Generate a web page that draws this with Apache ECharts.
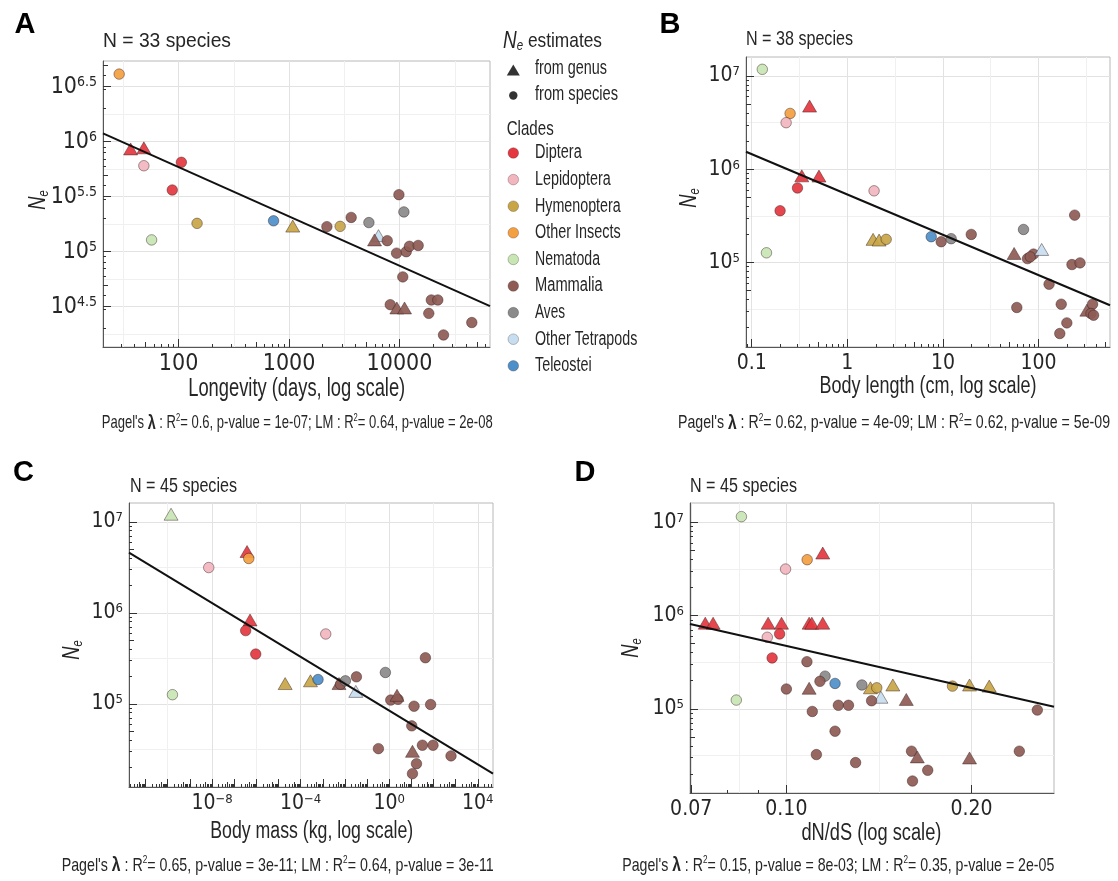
<!DOCTYPE html>
<html><head><meta charset="utf-8">
<script src="https://cdn.jsdelivr.net/npm/echarts@6/dist/echarts.min.js"></script>
<style>html,body{margin:0;padding:0;background:#fff}#c{width:1118px;height:881px}</style>
</head><body><div id="c"></div>
<script>
// ---------------- DATA ----------------
const clades = ['Diptera','Lepidoptera','Hymenoptera','Other Insects','Nematoda','Mammalia','Aves','Other Tetrapods','Teleostei'];
const cladeColors = ['#E4373F','#F2B6BF','#C8A646','#F4A040','#C8E6B4','#8E5B55','#8A8A8A','#C7DDF0','#4D8FC9'];
const estimateSources = ['from genus','from species']; // 'g' / 's'

// Panel A: [longevity (days), Ne, clade, source]
const longevityPoints = [
 [29,4.12e6,'Other Insects','s'],[36.8,8.6e5,'Diptera','g'],[48.5,8.8e5,'Diptera','g'],
 [48.5,6.05e5,'Lepidoptera','s'],[106,6.5e5,'Diptera','s'],[87.7,3.64e5,'Diptera','s'],
 [147,1.81e5,'Hymenoptera','s'],[57,1.28e5,'Nematoda','s'],[724,1.91e5,'Teleostei','s'],
 [1080,1.71e5,'Hymenoptera','g'],[2200,1.69e5,'Mammalia','s'],[2900,1.70e5,'Hymenoptera','s'],
 [3650,2.05e5,'Mammalia','s'],[5280,1.84e5,'Aves','s'],[6450,1.40e5,'Other Tetrapods','g'],
 [5940,1.28e5,'Mammalia','g'],[7740,1.26e5,'Mammalia','s'],[9870,3.3e5,'Mammalia','s'],
 [10950,2.3e5,'Aves','s'],[9400,9.7e4,'Mammalia','s'],[11500,1.0e5,'Mammalia','s'],
 [12300,1.12e5,'Mammalia','s'],[14750,1.14e5,'Mammalia','s'],[10700,5.9e4,'Mammalia','s'],
 [8240,3.3e4,'Mammalia','s'],[9460,3.08e4,'Mammalia','g'],[11100,3.08e4,'Mammalia','g'],
 [19400,3.64e4,'Mammalia','s'],[22200,3.64e4,'Mammalia','s'],[18400,2.75e4,'Mammalia','s'],
 [25000,1.75e4,'Mammalia','s'],[45100,2.27e4,'Mammalia','s']
];
const longevityFit = [[20.7,1.19e6],[65900,3.2e4]];

// Panel B: [body length (cm), Ne, clade, source]
const lengthPoints = [
 [0.129,1.18e7,'Nematoda','s'],[0.252,3.97e6,'Other Insects','s'],[0.229,3.16e6,'Lepidoptera','s'],
 [0.403,4.76e6,'Diptera','g'],[0.334,8.5e5,'Diptera','g'],[0.505,8.45e5,'Diptera','g'],
 [0.301,6.3e5,'Diptera','s'],[0.198,3.59e5,'Diptera','s'],[0.1426,1.27e5,'Nematoda','s'],
 [1.905,5.87e5,'Lepidoptera','s'],[1.86,1.77e5,'Hymenoptera','g'],[2.15,1.74e5,'Hymenoptera','g'],
 [2.55,1.77e5,'Hymenoptera','s'],[7.55,1.89e5,'Teleostei','s'],[9.6,1.67e5,'Mammalia','s'],
 [12.2,1.80e5,'Aves','s'],[19.8,2.0e5,'Mammalia','s'],[69.7,2.26e5,'Aves','s'],
 [55.6,1.25e5,'Mammalia','g'],[76.7,1.10e5,'Mammalia','s'],[88.7,1.23e5,'Mammalia','s'],
 [82,1.15e5,'Mammalia','s'],[108,1.38e5,'Other Tetrapods','g'],[239,3.22e5,'Mammalia','s'],
 [224,9.5e4,'Mammalia','s'],[272,9.9e4,'Mammalia','s'],[129,5.85e4,'Mammalia','s'],
 [59.3,3.29e4,'Mammalia','s'],[173,3.57e4,'Mammalia','s'],[198,2.25e4,'Mammalia','s'],
 [167,1.73e4,'Mammalia','s'],[321,3.08e4,'Mammalia','g'],[368,3.57e4,'Mammalia','s'],
 [354,2.84e4,'Mammalia','s'],[377,2.72e4,'Mammalia','s']
];
const lengthFit = [[0.0871,1.54e6],[560,3.48e4]];

// Panel C: [body mass (kg), Ne, clade, source]
const massPoints = [
 [1.41e-10,1.21e7,'Nematoda','g'],[1.63e-10,1.26e5,'Nematoda','s'],[7.1e-9,3.14e6,'Lepidoptera','s'],
 [3.8e-7,4.71e6,'Diptera','g'],[4.55e-7,3.95e6,'Other Insects','s'],[5.2e-7,8.34e5,'Diptera','g'],
 [3.3e-7,6.37e5,'Diptera','s'],[9.4e-7,3.52e5,'Diptera','s'],[1.36e-3,5.85e5,'Lepidoptera','s'],
 [2.0e-5,1.67e5,'Hymenoptera','g'],[2.78e-4,1.79e5,'Hymenoptera','g'],[6.1e-4,1.85e5,'Teleostei','s'],
 [5.4e-3,1.67e5,'Mammalia','g'],[6.3e-3,1.64e5,'Mammalia','s'],[0.0105,1.79e5,'Aves','s'],
 [0.033,1.98e5,'Mammalia','s'],[0.031,1.37e5,'Other Tetrapods','g'],[0.67,2.21e5,'Aves','s'],
 [0.325,3.22e4,'Mammalia','s'],[1.17,1.10e5,'Mammalia','s'],[2.5,1.12e5,'Mammalia','s'],
 [2.25,1.24e5,'Mammalia','g'],[13.2,9.42e4,'Mammalia','s'],[43,3.21e5,'Mammalia','s'],
 [74,9.83e4,'Mammalia','s'],[10.4,5.73e4,'Mammalia','s'],[31.5,3.51e4,'Mammalia','s'],
 [95,3.51e4,'Mammalia','s'],[11.2,3.01e4,'Mammalia','g'],[17,2.2e4,'Mammalia','s'],
 [11.2,1.71e4,'Mammalia','s'],[617,2.68e4,'Mammalia','s']
];
const massFit = [[1.78e-12,4.59e6],[48500,1.71e4]];

// Panel D: [dN/dS, Ne, clade, source]
const dndsPoints = [
 [0.0845,1.15e7,'Nematoda','s'],[0.0829,1.24e5,'Nematoda','s'],[0.0997,3.15e6,'Lepidoptera','s'],
 [0.1081,3.97e6,'Other Insects','s'],[0.1146,4.68e6,'Diptera','g'],[0.0738,8.28e5,'Diptera','g'],
 [0.0760,8.28e5,'Diptera','g'],[0.0934,8.28e5,'Diptera','g'],[0.0982,8.28e5,'Diptera','g'],
 [0.1089,8.28e5,'Diptera','g'],[0.110,8.28e5,'Diptera','g'],[0.1146,8.28e5,'Diptera','g'],
 [0.0931,5.85e5,'Lepidoptera','s'],[0.0975,6.35e5,'Diptera','s'],[0.0948,3.51e5,'Diptera','s'],
 [0.108,3.2e5,'Mammalia','s'],[0.1156,2.24e5,'Aves','s'],[0.1134,1.97e5,'Mammalia','s'],
 [0.12,1.87e5,'Teleostei','s'],[0.1,1.63e5,'Mammalia','s'],[0.1089,1.66e5,'Mammalia','g'],
 [0.1327,1.80e5,'Aves','s'],[0.137,1.68e5,'Hymenoptera','g'],[0.1403,1.68e5,'Hymenoptera','s'],
 [0.149,1.80e5,'Hymenoptera','g'],[0.1425,1.33e5,'Other Tetrapods','g'],[0.1376,1.22e5,'Mammalia','s'],
 [0.1567,1.26e5,'Mammalia','g'],[0.1863,1.75e5,'Hymenoptera','s'],[0.1986,1.80e5,'Hymenoptera','g'],
 [0.2138,1.75e5,'Hymenoptera','g'],[0.256,9.69e4,'Mammalia','s'],[0.1102,9.36e4,'Mammalia','s'],
 [0.1215,1.09e5,'Mammalia','s'],[0.1262,1.09e5,'Mammalia','s'],[0.12,5.75e4,'Mammalia','s'],
 [0.1119,3.23e4,'Mammalia','s'],[0.1296,2.65e4,'Mammalia','s'],[0.1598,3.51e4,'Mammalia','s'],
 [0.1633,3.05e4,'Mammalia','g'],[0.1698,2.19e4,'Mammalia','s'],[0.1604,1.68e4,'Mammalia','s'],
 [0.1986,2.97e4,'Mammalia','g'],[0.2393,3.51e4,'Mammalia','s']
];
const dndsFit = [[0.0697,8.13e5],[0.2725,1.05e5]];

// tick labels
const longevityTicks = [100, 1000, 10000];
const neExpA = [4.5, 5, 5.5, 6, 6.5];
const lengthTicks = [0.1, 1, 10, 100];
const neExp = [5, 6, 7];
const massExp = [-8, -4, 0, 4];
const dndsTicks = [0.07, 0.10, 0.20];

// texts
const panelLetters = ['A','B','C','D'];
const speciesCounts = [33, 38, 45, 45];
const xTitles = ['Longevity (days, log scale)','Body length (cm, log scale)','Body mass (kg, log scale)','dN/dS (log scale)'];
const pagelR2 = ['0.6','0.62','0.65','0.15'];
const pagelP = ['1e-07','4e-09','3e-11','8e-03'];
const lmR2 = ['0.64','0.62','0.64','0.35'];
const lmP = ['2e-08','5e-09','3e-11','2e-05'];

// ---------------- LAYOUT / STYLE ----------------
const FT = "'Liberation Sans', Arial, sans-serif";
const FN = "'Liberation Sans Narrow', 'DejaVu Sans Condensed', 'Liberation Sans', sans-serif";
const INK = '#262626';
const colorOf = {}; clades.forEach((c,i)=>colorOf[c]=cladeColors[i]);

const fmtPlain = v => String(Math.round(v));
const fmtLen = v => v < 1 ? v.toFixed(1) : String(Math.round(v));
const fmtDnds = v => v.toFixed(2);
const fmtPow = v => { const e = Math.round(Math.log10(v)*10)/10; const s = (Math.abs(e - Math.round(e)) < 1e-9 ? String(Math.round(e)) : e.toFixed(1)).replace('-', '\u2212'); return '{b|10}{s|' + s + '}'; };

const panels = [
 {grid:{left:103, top:61, width:387, height:286}, xr:[20.7,65900], yr:[1.36e4,5.42e6], xt:longevityTicks, yt:neExpA.map(e=>Math.pow(10,e)), xf:fmtPlain, yf:fmtPow, ls:23, pts:longevityPoints, fit:longevityFit,
  letter:[25,25], title:{x:103,y:41,w:128,s:21}, xname:{x:296.7,y:389,w:217,s:25}, foot:{x:101.7,y:423,w:391}, yname:[39,200]},
 {grid:{left:746, top:57, width:364, height:290}, xr:[0.0871,560], yr:[1.24e4,1.60e7], xt:lengthTicks, yt:neExp.map(e=>Math.pow(10,e)), xf:fmtLen, yf:fmtPow, ls:21, pts:lengthPoints, fit:lengthFit,
  letter:[670,25], title:{x:746,y:39.5,w:107,s:20}, xname:{x:928,y:386.7,w:217,s:23}, foot:{x:678,y:423,w:432}, yname:[690,198]},
 {grid:{left:129, top:503, width:364, height:284}, xr:[1.78e-12,48500], yr:[1.22e4,1.607e7], xt:massExp.map(e=>Math.pow(10,e)), yt:neExp.map(e=>Math.pow(10,e)), xf:fmtPow, yf:fmtPow, ls:21, pts:massPoints, fit:massFit,
  letter:[23.5,473], title:{x:130,y:486,w:107,s:20}, xname:{x:311.7,y:831.5,w:203,s:23}, foot:{x:61.7,y:865.5,w:432}, yname:[73,650]},
 {grid:{left:690, top:503, width:364, height:290}, xr:[0.0697,0.2725], yr:[1.25e4,1.61e7], xt:dndsTicks, yt:neExp.map(e=>Math.pow(10,e)), xf:fmtDnds, yf:fmtPow, ls:21, pts:dndsPoints, fit:dndsFit,
  letter:[585,473], title:{x:690,y:486,w:107,s:20}, xname:{x:871.4,y:834,w:140,s:23}, foot:{x:622.3,y:865.5,w:432}, yname:[632,648]}
];

// ---------------- AXES ----------------
const xAxes = [], yAxes = [];
function addAxes(list, dim, gi, range, majors, fmt, ls) {
  const L0 = Math.log10(range[0]), L1 = Math.log10(range[1]);
  const inR = v => { const l = Math.log10(v); return l >= L0 - 1e-9 && l <= L1 + 1e-9; };
  const lm = majors.map(v => Math.log10(v));
  const mids = [];
  for (let i = 0; i < lm.length - 1; i++) mids.push((lm[i] + lm[i+1]) / 2);
  if (lm.length > 1) {
    const s0 = lm[1] - lm[0], s1 = lm[lm.length-1] - lm[lm.length-2];
    mids.unshift(lm[0] - s0/2); mids.push(lm[lm.length-1] + s1/2);
  }
  const minorGrid = mids.map(l => Math.pow(10, l)).filter(inR);
  const longs = [], fives = [], smalls = [];
  for (let k = Math.floor(L0); k <= Math.ceil(L1); k++) {
    const d = Math.pow(10, k); if (inR(d)) longs.push(d);
    const f = 5 * Math.pow(10, k); if (inR(f)) fives.push(f);
    [2,3,4,6,7,8,9].forEach(m => { const v = m * Math.pow(10, k); if (inR(v)) smalls.push(v); });
  }
  majors.forEach(v => { if (inR(v) && !longs.some(d => Math.abs(Math.log10(d) - Math.log10(v)) < 1e-6)) longs.push(v); });
  const common = {type:'log', logBase:10, gridIndex:gi, min:range[0], max:range[1], position: dim === 'x' ? 'bottom' : 'left', silent:true,
    axisLine:{show:false}, axisLabel:{show:false}, splitLine:{show:false}, axisPointer:{show:false}};
  const main = Object.assign({}, common, {
    axisLine:{show:true, onZero:false, lineStyle:{color:'#555', width:1}},
    axisTick:{show:false, customValues:majors},
    axisLabel:{show:true, customValues:majors, formatter:fmt, color:INK, fontFamily:FN, fontSize:ls, margin:6,
      rich:{b:{fontSize:ls, fontFamily:FN, color:INK, lineHeight:ls},
            s:{fontSize:Math.round(ls*0.6), fontFamily:FN, color:INK, verticalAlign:'top', lineHeight:Math.round(ls*0.4)}}},
    splitLine:{show:true, lineStyle:{color:'#e2e2e2', width:1}}
  });
  const idx = list.length;
  list.push(main);
  list.push(Object.assign({}, common, {axisTick:{show:false, customValues:minorGrid}, splitLine:{show:true, lineStyle:{color:'#f0f0f0', width:1}}}));
  list.push(Object.assign({}, common, {axisTick:{show:true, inside:true, length:8, customValues:longs, lineStyle:{color:'#333', width:1}}}));
  list.push(Object.assign({}, common, {axisTick:{show:true, inside:true, length:5, customValues:fives, lineStyle:{color:'#333', width:1}}}));
  list.push(Object.assign({}, common, {axisTick:{show:true, inside:true, length:3, customValues:smalls, lineStyle:{color:'#333', width:1}}}));
  return idx;
}

const grids = [], series = [];
panels.forEach((p, gi) => {
  grids.push(Object.assign({show:true, borderColor:'#b8b8b8', borderWidth:1, backgroundColor:'#fff', containLabel:false}, p.grid));
  const xi = addAxes(xAxes, 'x', gi, p.xr, p.xt, p.xf, p.ls);
  const yi = addAxes(yAxes, 'y', gi, p.yr, p.yt, p.yf, p.ls);
  series.push({
    type:'scatter', xAxisIndex:xi, yAxisIndex:yi, z:3, silent:true, emphasis:{disabled:true},
    data: p.pts.map(d => ({
      value:[d[0], d[1]],
      symbol: d[3] === 'g' ? 'triangle' : 'circle',
      symbolSize: d[3] === 'g' ? [14, 12] : 10.5,
      itemStyle:{color:colorOf[d[2]], borderColor:'rgba(50,25,25,0.6)', borderWidth:0.8, opacity:0.92}
    }))
  });
  series.push({type:'line', xAxisIndex:xi, yAxisIndex:yi, z:4, silent:true, data:p.fit, symbol:'none', showSymbol:false,
    lineStyle:{color:'#111', width:2}, emphasis:{disabled:true}});
});

// ---------------- TEXT (graphic) ----------------
const mctx = document.createElement('canvas').getContext('2d');
function segWidth(segs) {
  let w = 0;
  segs.forEach(s => { mctx.font = (s.style||'normal') + ' ' + (s.weight||'normal') + ' ' + s.size + 'px ' + FT; w += mctx.measureText(s.t).width; });
  return w;
}
function rtext(x, y, segs, opt) {
  opt = opt || {};
  const rich = {}; let text = '';
  segs.forEach((s, i) => {
    const k = 'k' + i;
    rich[k] = {fontSize:s.size, fontFamily:FT, fontStyle:s.style||'normal', fontWeight:s.weight||'normal',
      fill:opt.color||INK, color:opt.color||INK, verticalAlign:s.va||'middle', lineHeight:s.lh||Math.round(s.size*1.05)};
    text += '{' + k + '|' + s.t + '}';
  });
  const sx = opt.width ? opt.width / segWidth(segs) : (opt.sx || 1);
  return {type:'text', x:x, y:y, rotation:opt.rot||0, scaleX:sx, scaleY:1, silent:true, z:100,
    style:{text:text, rich:rich, fill:opt.color||INK, align:opt.align||'left', textAlign:opt.align||'left', verticalAlign:'middle', textVerticalAlign:'middle'}};
}
const graphics = [];
panels.forEach((p, i) => {
  graphics.push(rtext(p.letter[0], p.letter[1], [{t:panelLetters[i], size:29, weight:'bold'}], {align:'center', color:'#000'}));
  graphics.push(rtext(p.title.x, p.title.y, [{t:'N = ' + speciesCounts[i] + ' species', size:p.title.s}], {width:p.title.w}));
  graphics.push(rtext(p.xname.x, p.xname.y, [{t:xTitles[i], size:p.xname.s}], {width:p.xname.w, align:'center'}));
  const fs = 19;
  graphics.push(rtext(p.foot.x, p.foot.y, [
    {t:"Pagel's ", size:fs}, {t:'\u03bb', size:fs+2, weight:'bold'}, {t:' : R', size:fs},
    {t:'2', size:11, va:'top', lh:8}, {t:'= ' + pagelR2[i] + ', p-value = ' + pagelP[i] + '; LM : R', size:fs},
    {t:'2', size:11, va:'top', lh:8}, {t:'= ' + lmR2[i] + ', p-value = ' + lmP[i], size:fs}
  ], {width:p.foot.w}));
  graphics.push(rtext(p.yname[0], p.yname[1], [{t:'N', size:23, style:'italic', lh:24}, {t:'e', size:14, style:'italic', va:'bottom', lh:10}], {align:'center', rot:Math.PI/2, sx:0.8}));
});

// legend
graphics.push(rtext(503, 41.5, [{t:'N', size:23, style:'italic', lh:24}, {t:'e', size:14, style:'italic', va:'bottom', lh:10}, {t:' estimates', size:21}], {width:99}));
graphics.push({type:'polygon', silent:true, z:100, shape:{points:[[513.3,64.5],[519.8,75.5],[506.8,75.5]]}, style:{fill:'#333'}});
graphics.push(rtext(535, 69, [{t:estimateSources[0], size:19.5}], {width:72}));
graphics.push({type:'circle', silent:true, z:100, shape:{cx:513.3, cy:95.5, r:4.2}, style:{fill:'#333'}});
graphics.push(rtext(535, 94.3, [{t:estimateSources[1], size:19.5}], {width:83}));
graphics.push(rtext(506.7, 129.2, [{t:'Clades', size:21}], {width:47}));
const legendW = [46.7, 75.7, 85.7, 85.7, 65, 67.7, 30, 102.3, 56.7];
clades.forEach((c, i) => {
  const cy = 153 + 26.6 * i;
  graphics.push({type:'circle', silent:true, z:100, shape:{cx:513.3, cy:cy, r:5.3}, style:{fill:cladeColors[i], stroke:'rgba(50,25,25,0.35)', lineWidth:0.8}});
  graphics.push(rtext(535, cy, [{t:c, size:19.5}], {width:legendW[i]}));
});

const chart = echarts.init(document.getElementById('c'), null, {renderer:'canvas'});
chart.setOption({
  animation:false, backgroundColor:'#fff',
  grid:grids, xAxis:xAxes, yAxis:yAxes, series:series, graphic:graphics
});
</script></body></html>
